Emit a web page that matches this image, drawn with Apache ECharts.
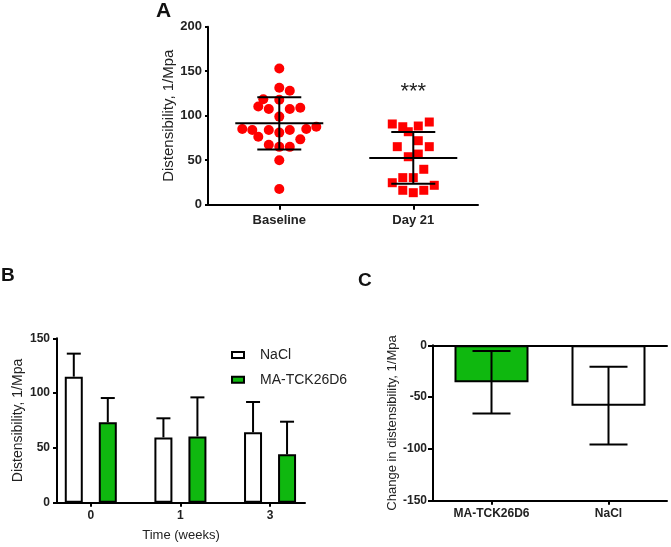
<!DOCTYPE html>
<html><head><meta charset="utf-8">
<script src="https://cdn.jsdelivr.net/npm/echarts@6/dist/echarts.min.js"></script>
<style>html,body{margin:0;padding:0;background:#fff}#c{width:671px;height:547px}</style>
</head><body><div id="c"></div>
<script>
// ---------- Panel A data ----------
const groupsA = ['Baseline', 'Day 21'];
const baselineValues = [153, 131.5, 128, 118.4, 118, 110.4, 107.5, 107.5, 109, 99, 85, 84, 84, 81, 84, 85, 87.6, 76.4, 73.4, 67.4, 65, 65, 50, 17.6];
const day21Values = [90.7, 87.6, 82, 88.4, 92.9, 71.9, 65.2, 65.2, 56.9, 53.9, 39.8, 30.4, 30.4, 24.7, 21.8, 16.2, 13.5, 16.2];
const meansA = [91.4, 52.6];
const sdA = [29.3, 29.0];
const starsA = ['', '***'];
const starsLevelA = 131;
// ---------- Panel B data ----------
const weeksB = ['0', '1', '3'];
const naclB = [115, 59.6, 64.2];
const naclErrB = [21, 17.4, 27.7];
const maB = [73.3, 60.5, 44.1];
const maErrB = [22.2, 35.6, 29.8];
// ---------- Panel C data ----------
const groupsC = ['MA-TCK26D6', 'NaCl'];
const changeC = [-35.7, -58.3];
const changeSdC = [30.1, 37.5];

// ---------- layout only (horizontal jitter in px) ----------
const baselineJitter = [0, 0, 10.5, -16, 0, -21, -10.5, 10.5, 21, 0, -37, -27, -10.5, 0, 10.5, 27, 37, -21, 21, -10.5, 0, 10.5, 0, 0];
const day21Jitter = [-21, -10.5, -5, 5, 16, 5, -16, 16, 5, -5, 10.5, -10.5, 0, -21, 21, -10.5, 0, 10.5];

const GREEN = '#0fb80f';
const FONT = '"Liberation Sans", Arial, sans-serif';
const blk = { color: '#000', width: 2 };

const chart = echarts.init(document.getElementById('c'), null, { renderer: 'canvas' });

function errA(params, api) {
  const x = api.value(0), m = api.value(1), s = api.value(2);
  const pm = api.coord([x, m]), pu = api.coord([x, m + s]), pl = api.coord([x, m - s]);
  const st = { stroke: '#000', lineWidth: 2 };
  return { type: 'group', children: [
    { type: 'line', shape: { x1: pm[0] - 44, y1: pm[1], x2: pm[0] + 44, y2: pm[1] }, style: st },
    { type: 'line', shape: { x1: pu[0], y1: pu[1], x2: pl[0], y2: pl[1] }, style: st },
    { type: 'line', shape: { x1: pu[0] - 22, y1: pu[1], x2: pu[0] + 22, y2: pu[1] }, style: st },
    { type: 'line', shape: { x1: pl[0] - 22, y1: pl[1], x2: pl[0] + 22, y2: pl[1] }, style: st }
  ]};
}
function errUp(offset) {
  return function (params, api) {
    const x = api.value(0), m = api.value(1), s = api.value(2);
    const p0 = api.coord([x, m]), p1 = api.coord([x, m + s]);
    const st = { stroke: '#000', lineWidth: 2 };
    return { type: 'group', children: [
      { type: 'line', shape: { x1: p0[0] + offset, y1: p0[1], x2: p1[0] + offset, y2: p1[1] }, style: st },
      { type: 'line', shape: { x1: p1[0] + offset - 7, y1: p1[1], x2: p1[0] + offset + 7, y2: p1[1] }, style: st }
    ]};
  };
}
function errC(params, api) {
  const x = api.value(0), m = api.value(1), s = api.value(2);
  const pu = api.coord([x, m + s]), pl = api.coord([x, m - s]);
  const st = { stroke: '#000', lineWidth: 2 };
  return { type: 'group', children: [
    { type: 'line', shape: { x1: pu[0], y1: pu[1], x2: pl[0], y2: pl[1] }, style: st },
    { type: 'line', shape: { x1: pu[0] - 19, y1: pu[1], x2: pu[0] + 19, y2: pu[1] }, style: st },
    { type: 'line', shape: { x1: pl[0] - 19, y1: pl[1], x2: pl[0] + 19, y2: pl[1] }, style: st }
  ]};
}

const option = {
  animation: false,
  backgroundColor: '#fff',
  textStyle: { fontFamily: FONT },
  title: [
    { text: 'A', left: 156, top: 1, padding: 0, textStyle: { fontSize: 21, fontWeight: 'bold', color: '#111', fontFamily: FONT } },
    { text: 'B', left: 1, top: 266, padding: 0, textStyle: { fontSize: 19, fontWeight: 'bold', color: '#111', fontFamily: FONT } },
    { text: 'C', left: 358, top: 271, padding: 0, textStyle: { fontSize: 19, fontWeight: 'bold', color: '#111', fontFamily: FONT } }
  ],
  legend: {
    data: [
      { name: 'NaCl', itemStyle: { color: '#fff', borderColor: '#000', borderWidth: 2 } },
      { name: 'MA-TCK26D6', itemStyle: { color: GREEN, borderColor: '#000', borderWidth: 2 } }
    ],
    orient: 'vertical', left: 231, top: 348, padding: 0,
    itemWidth: 12, itemHeight: 6, itemGap: 10.7, icon: 'rect',
    textStyle: { fontSize: 14, lineHeight: 14, color: '#222', padding: [0, 0, 0, 11], fontFamily: FONT }
  },
  grid: [
    { left: 208, top: 26.7, width: 270, height: 178 },
    { left: 57, top: 338.3, width: 248, height: 164.4 },
    { left: 433, top: 345.3, width: 234, height: 155.4 }
  ],
  xAxis: [
    { gridIndex: 0, type: 'value', min: -0.532, max: 1.483,
      axisLine: { show: true, onZero: false, lineStyle: blk },
      axisTick: { show: true, customValues: [0, 1], length: 5, lineStyle: blk },
      axisLabel: { customValues: [0, 1], formatter: v => groupsA[Math.round(v)], fontSize: 13, fontWeight: 'bold', color: '#222', margin: 9 },
      splitLine: { show: false } },
    { gridIndex: 1, type: 'value', min: -0.377, max: 2.39,
      name: 'Time (weeks)', nameLocation: 'middle', nameGap: 26,
      nameTextStyle: { fontSize: 13, color: '#222' },
      axisLine: { show: true, onZero: false, lineStyle: blk },
      axisTick: { show: true, customValues: [0, 1, 2], length: 4, lineStyle: blk },
      axisLabel: { customValues: [0, 1, 2], formatter: v => weeksB[Math.round(v)], fontSize: 12, fontWeight: 'bold', color: '#222', margin: 7 },
      splitLine: { show: false } },
    { gridIndex: 2, type: 'category', data: groupsC, position: 'bottom',
      axisLine: { show: true, onZero: false, lineStyle: blk },
      axisTick: { show: true, alignWithLabel: true, length: 4, lineStyle: blk },
      axisLabel: { fontSize: 12, fontWeight: 'bold', color: '#222', margin: 7 } },
    { gridIndex: 2, type: 'category', data: groupsC, position: 'top',
      axisLine: { show: true, onZero: false, lineStyle: blk },
      axisTick: { show: false }, axisLabel: { show: false } }
  ],
  yAxis: [
    { gridIndex: 0, type: 'value', min: 0, max: 200, interval: 50,
      name: 'Distensibility, 1/Mpa', nameLocation: 'middle', nameGap: 31,
      nameTextStyle: { fontSize: 15, color: '#222' },
      axisLine: { show: true, onZero: false, lineStyle: blk },
      axisTick: { show: true, length: 3, lineStyle: blk },
      axisLabel: { fontSize: 13, fontWeight: 'bold', color: '#222', margin: 6 },
      splitLine: { show: false } },
    { gridIndex: 1, type: 'value', min: 0, max: 150, interval: 50,
      name: 'Distensibility, 1/Mpa', nameLocation: 'middle', nameGap: 32,
      nameTextStyle: { fontSize: 14, color: '#222' },
      axisLine: { show: true, onZero: false, lineStyle: blk },
      axisTick: { show: true, length: 4, lineStyle: blk },
      axisLabel: { fontSize: 12, fontWeight: 'bold', color: '#222', margin: 7 },
      splitLine: { show: false } },
    { gridIndex: 2, type: 'value', min: -150, max: 0, interval: 50,
      name: 'Change in distensibility, 1/Mpa', nameLocation: 'middle', nameGap: 33,
      nameTextStyle: { fontSize: 13, color: '#222' },
      axisLine: { show: true, onZero: false, lineStyle: blk },
      axisTick: { show: true, length: 5, lineStyle: blk },
      axisLabel: { fontSize: 12, fontWeight: 'bold', color: '#222', margin: 6 },
      splitLine: { show: false } }
  ],
  series: [
    { type: 'scatter', name: 'Baseline', xAxisIndex: 0, yAxisIndex: 0, symbol: 'circle', symbolSize: 10,
      itemStyle: { color: '#ff0000', opacity: 1 },
      data: baselineValues.map((v, i) => ({ value: [0, v], symbolOffset: [baselineJitter[i], 0] })) },
    { type: 'scatter', name: 'Day 21', xAxisIndex: 0, yAxisIndex: 0, symbol: 'rect', symbolSize: 9,
      itemStyle: { color: '#ff0000', opacity: 1 },
      data: day21Values.map((v, i) => ({ value: [1, v], symbolOffset: [day21Jitter[i], 0] })) },
    { type: 'custom', name: 'meanSdA', xAxisIndex: 0, yAxisIndex: 0, renderItem: errA, z: 5,
      encode: { x: 0, y: 1 }, data: meansA.map((m, i) => [i, m, sdA[i]]) },
    { type: 'custom', name: 'starsA', xAxisIndex: 0, yAxisIndex: 0, z: 5,
      renderItem: (params, api) => {
        const p = api.coord([api.value(0), api.value(1)]);
        return { type: 'text', x: p[0], y: p[1] + 4,
          style: { text: starsA[params.dataIndex], textAlign: 'center', textVerticalAlign: 'middle', font: '22px ' + FONT, fill: '#222' } };
      },
      encode: { x: 0, y: 1 }, data: starsA.map((s, i) => [i, starsLevelA]) },
    { type: 'bar', name: 'NaCl', xAxisIndex: 1, yAxisIndex: 1, barWidth: 18, barGap: '89%',
      itemStyle: { color: '#fff', borderColor: '#000', borderWidth: 2 },
      data: naclB.map((v, i) => [i, v]) },
    { type: 'bar', name: 'MA-TCK26D6', xAxisIndex: 1, yAxisIndex: 1, barWidth: 18, barGap: '89%',
      itemStyle: { color: GREEN, borderColor: '#000', borderWidth: 2 },
      data: maB.map((v, i) => [i, v]) },
    { type: 'custom', name: 'errNaClB', xAxisIndex: 1, yAxisIndex: 1, renderItem: errUp(-17), z: 5,
      encode: { x: 0, y: 1 }, data: naclB.map((v, i) => [i, v, naclErrB[i]]) },
    { type: 'custom', name: 'errMaB', xAxisIndex: 1, yAxisIndex: 1, renderItem: errUp(17), z: 5,
      encode: { x: 0, y: 1 }, data: maB.map((v, i) => [i, v, maErrB[i]]) },
    { type: 'bar', name: 'changeC', xAxisIndex: 2, yAxisIndex: 2, barWidth: 74,
      data: changeC.map((v, i) => ({ value: v, itemStyle: { color: i === 0 ? GREEN : '#fff', borderColor: '#000', borderWidth: 2 } })) },
    { type: 'custom', name: 'errC', xAxisIndex: 2, yAxisIndex: 2, renderItem: errC, z: 5,
      encode: { x: 0, y: 1 }, data: changeC.map((v, i) => [i, v, changeSdC[i]]) }
  ]
};
chart.setOption(option);
</script>
</body></html>
